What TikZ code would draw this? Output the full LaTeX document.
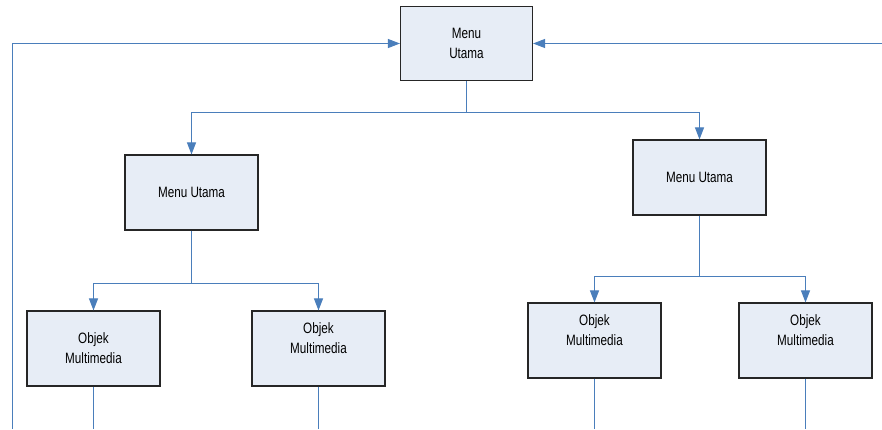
\documentclass[tikz,border=0pt]{standalone}
\usepackage{fontspec}
\setmainfont[FakeStretch=0.78]{Liberation Sans}
\usetikzlibrary{arrows.meta}
\definecolor{boxfill}{HTML}{E7EDF6}
\definecolor{boxline}{HTML}{262626}
\definecolor{conn}{HTML}{4A7EBB}
\tikzset{
  boxfont/.style={font=\fontsize{15}{20}\selectfont},
  box/.style={draw=boxline, line width=1.1pt, fill=boxfill, minimum width=132pt, minimum height=74pt, inner sep=0pt, align=center, boxfont},
  conline/.style={draw=conn, line width=1pt},
  arr/.style={conline, -{Triangle[length=12pt,width=9pt]}, color=conn},
  uplabel/.style={label={[align=center,boxfont,yshift=10pt]center:#1}}
}
\begin{document}
\begin{tikzpicture}[x=1pt,y=-1pt]
\useasboundingbox (0,0) rectangle (882,429);
% nodes
\node[box] (top) at (466.5,43.5) {Menu\\Utama};
\node[box, minimum width=133pt, minimum height=75pt] (lmu) at (191.5,192.5) {Menu Utama};
\node[box, minimum width=133pt, minimum height=75pt] (rmu) at (699.5,177.5) {Menu Utama};
\node[box, minimum width=133pt, minimum height=75pt] (ll) at (93.5,348.5) {Objek\\Multimedia};
\node[box, minimum width=133pt, minimum height=75pt, uplabel={Objek\\Multimedia}] (lr) at (318.5,348.5) {};
\node[box, minimum width=133pt, minimum height=75pt, uplabel={Objek\\Multimedia}] (rl) at (594.5,340.5) {};
\node[box, minimum width=133pt, minimum height=75pt, uplabel={Objek\\Multimedia}] (rr) at (805.5,340.5) {};
% coordinates
\coordinate (bl) at (12.5,429);
\coordinate (tr) at (882,43.5);
\coordinate (j0) at (466.5,112.5);
\coordinate (j1) at (191.5,283.5);
\coordinate (j2) at (699.5,276.5);
\coordinate (e1) at (93.5,429);
\coordinate (e2) at (318.5,429);
\coordinate (e3) at (594.5,429);
\coordinate (e4) at (805.5,429);
% connectors
\draw[arr] (bl) |- (top.west);
\draw[arr] (tr) -- (top.east);
\draw[conline] (top.south) -- (j0);
\draw[arr] (j0) -| (lmu.north);
\draw[arr] (j0) -| (rmu.north);
\draw[conline] (lmu.south) -- (j1);
\draw[arr] (j1) -| (ll.north);
\draw[arr] (j1) -| (lr.north);
\draw[conline] (rmu.south) -- (j2);
\draw[arr] (j2) -| (rl.north);
\draw[arr] (j2) -| (rr.north);
\draw[conline] (ll.south) -- (e1);
\draw[conline] (lr.south) -- (e2);
\draw[conline] (rl.south) -- (e3);
\draw[conline] (rr.south) -- (e4);
\end{tikzpicture}
\end{document}
